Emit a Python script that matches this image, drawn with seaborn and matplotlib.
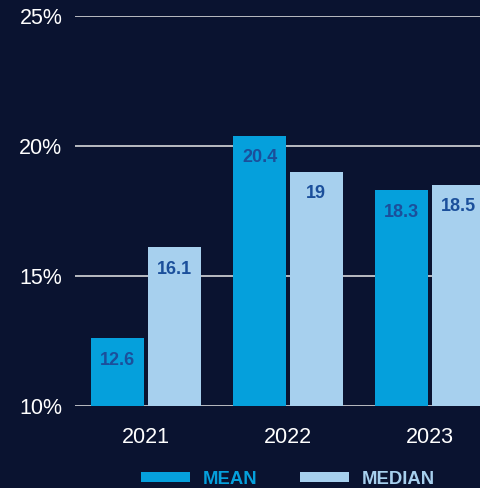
#!/usr/bin/env python3

import matplotlib
matplotlib.use('Agg')
import matplotlib.pyplot as plt
from matplotlib.patches import Patch
import seaborn as sns
import pandas as pd

years = ['2021', '2022', '2023']
mean_vals = [12.6, 20.4, 18.3]
median_vals = [16.1, 19.0, 18.5]
series = ['MEAN', 'MEDIAN']
yticks = [10, 15, 20, 25]

bg = '#0a1330'
colors = {'MEAN': '#05a0dc', 'MEDIAN': '#a7d0ee'}
label_color = '#1b4f9b'

sns.set_theme(style="white")
plt.rcParams['font.family'] = ['Liberation Sans', 'DejaVu Sans']

df = pd.DataFrame({'year': years, 'MEAN': mean_vals, 'MEDIAN': median_vals})
df = df.melt(id_vars='year', var_name='stat', value_name='value')

fig = plt.figure(figsize=(4.81, 4.88), dpi=100, facecolor=bg)
ax = fig.add_axes([75 / 481, 82 / 488, 1 - 75 / 481, (406 - 16) / 488])
ax.set_facecolor(bg)

sns.barplot(data=df, x='year', y='value', hue='stat', order=years,
            hue_order=series, palette=colors, saturation=1,
            width=0.8, gap=0.07, ax=ax, legend=False, zorder=2,
            linewidth=0, edgecolor='none')

# value labels inside the top of each bar
for cont, name in zip(ax.containers, series):
    vals = df[df.stat == name]['value'].tolist()
    for bar, v in zip(cont, vals):
        x = bar.get_x() + bar.get_width() / 2
        ax.annotate(f'{v:g}', (x, bar.get_height()), xytext=(0, -22),
                    textcoords='offset pixels', ha='center', va='center',
                    color=label_color, fontsize=13, fontweight='bold')

ax.set_ylim(10, 25)
ax.set_xlim(-0.5, 2.36)
ax.set_yticks(yticks)
ax.set_yticklabels([f'{t}%' for t in yticks])
ax.yaxis.grid(True, color='#e8e8e8', linewidth=1.1, zorder=0)
ax.set_axisbelow(True)
ax.tick_params(axis='both', length=0, colors='white', labelsize=15.5)
ax.tick_params(axis='y', pad=9)
ax.tick_params(axis='x', pad=15)
ax.set_xlabel('')
ax.set_ylabel('')
for s in ax.spines.values():
    s.set_visible(False)

handles = [Patch(facecolor=colors[s], edgecolor='none') for s in series]
leg = fig.legend(handles, series, loc='center', bbox_to_anchor=(0.599, 0.018),
                 bbox_transform=fig.transFigure, ncol=2, frameon=False,
                 handlelength=2.65, handleheight=0.45, handletextpad=0.7,
                 columnspacing=2.3, borderpad=0,
                 prop={'size': 13.3, 'weight': 'bold'})
for txt, s in zip(leg.get_texts(), series):
    txt.set_color(colors[s])

plt.savefig('out.png', dpi=100, facecolor=bg)
